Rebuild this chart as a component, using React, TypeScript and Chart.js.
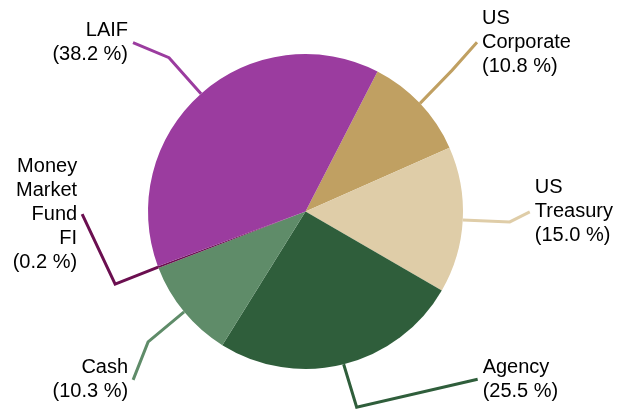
import React, { useEffect, useRef } from "react";
import { Chart, registerables } from "chart.js";

Chart.register(...registerables);

const categories = ["US Corporate", "US Treasury", "Agency", "Cash", "Money Market Fund FI", "LAIF"];
const labelLines = [["US", "Corporate"], ["US", "Treasury"], ["Agency"], ["Cash"], ["Money", "Market", "Fund", "FI"], ["LAIF"]];
const values = [10.8, 15.0, 25.5, 10.3, 0.2, 38.2];
const colors = ["#C0A062", "#DFCDA8", "#2F5E3B", "#5F8C69", "#6B0F50", "#9B3C9F"];

// leader line layout: elbow and end offsets relative to the slice's outer mid point, text side
const leaderLayout = [
  { elbow: [32, -33], end: [57, -61], side: "left" },
  { elbow: [47, 2], end: [67, -8], side: "left" },
  { elbow: [13, 43], end: [134, 15], side: "left" },
  { elbow: [-36, 30], end: [-51, 68], side: "right" },
  { elbow: [-43, 17], end: [-76, -53], side: "right" },
  { elbow: [-32, -36], end: [-68, -51], side: "right" },
];

const leaderPlugin = {
  id: "leaders",
  afterDatasetsDraw(chart: any) {
    const ctx = chart.ctx;
    const meta = chart.getDatasetMeta(0);
    ctx.save();
    ctx.font = "20px 'Liberation Sans', Arial, sans-serif";
    ctx.textBaseline = "middle";
    const lh = 24;
    meta.data.forEach((arc: any, i: number) => {
      const { x, y, startAngle, endAngle, outerRadius } = arc.getProps(
        ["x", "y", "startAngle", "endAngle", "outerRadius"],
        true
      );
      const mid = (startAngle + endAngle) / 2;
      const sx = x + Math.cos(mid) * outerRadius;
      const sy = y + Math.sin(mid) * outerRadius;
      const lay = leaderLayout[i];
      const ex = sx + lay.elbow[0];
      const ey = sy + lay.elbow[1];
      const tx = sx + lay.end[0];
      const ty = sy + lay.end[1];
      ctx.strokeStyle = colors[i];
      ctx.lineWidth = 3;
      ctx.lineJoin = "miter";
      ctx.beginPath();
      ctx.moveTo(sx, sy);
      ctx.lineTo(ex, ey);
      ctx.lineTo(tx, ty);
      ctx.stroke();
      const lines = [...labelLines[i], `(${values[i].toFixed(1)} %)`];
      ctx.fillStyle = "#000";
      ctx.textAlign = lay.side === "left" ? "left" : "right";
      const textX = lay.side === "left" ? tx + 5 : tx - 5;
      const top = ty - ((lines.length - 1) * lh) / 2;
      lines.forEach((t, k) => ctx.fillText(t, textX, top + k * lh));
    });
    ctx.restore();
  },
};

export default function App() {
  const ref = useRef<HTMLCanvasElement | null>(null);
  useEffect(() => {
    document.body.style.margin = "0";
    const chart = new Chart(ref.current!, {
      type: "pie",
      data: {
        labels: categories,
        datasets: [
          {
            data: values,
            backgroundColor: colors,
            borderWidth: 0,
          },
        ],
      },
      options: {
        animation: false,
        responsive: false,
        rotation: 27.2,
        layout: { padding: { left: 148, right: 154, top: 54, bottom: 43 } },
        plugins: { legend: { display: false }, tooltip: { enabled: false } },
      },
      plugins: [leaderPlugin],
    });
    return () => chart.destroy();
  }, []);
  return (
    <div style={{ width: 617, height: 412 }}>
      <canvas ref={ref} width={617} height={412} style={{ display: "block" }} />
    </div>
  );
}
